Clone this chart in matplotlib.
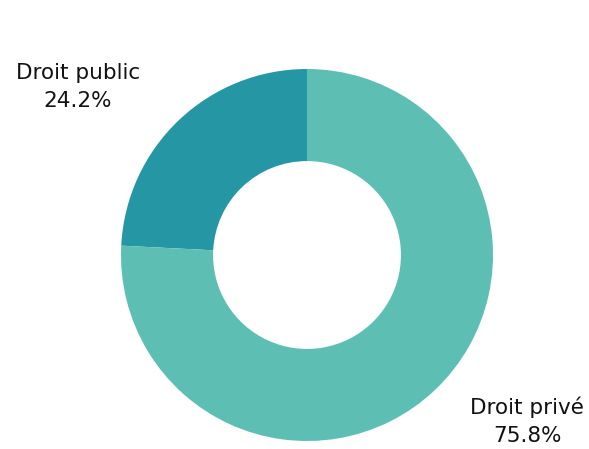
import matplotlib
matplotlib.use("Agg")
import matplotlib.pyplot as plt

labels = ["Droit public", "Droit privé"]
values = [24.2, 75.8]
colors = ["#2596A3", "#5DBFB4"]

W, H = 589, 449
fig = plt.figure(figsize=(W / 100, H / 100), dpi=100)
cx, cy, r = 307, 255, 186
ax = fig.add_axes([(cx - r) / W, (H - cy - r) / H, 2 * r / W, 2 * r / H])
ax.pie(values, colors=colors, startangle=90, counterclock=True, radius=1.0,
       wedgeprops=dict(width=0.495, edgecolor="none", linewidth=0))
ax.set_xlim(-1, 1)
ax.set_ylim(-1, 1)
ax.set_aspect("equal")
ax.axis("off")

label_pos = [(-1.231, 0.905), (1.185, -0.895)]
for lab, v, (x, y) in zip(labels, values, label_pos):
    ax.text(x, y, f"{lab}\n{v:.1f}%", ha="center", va="center", fontsize=15.5,
            family=["DejaVu Sans"], fontweight="normal",
            color="#111111", linespacing=1.5, clip_on=False)

fig.savefig("out.png", dpi=100)
